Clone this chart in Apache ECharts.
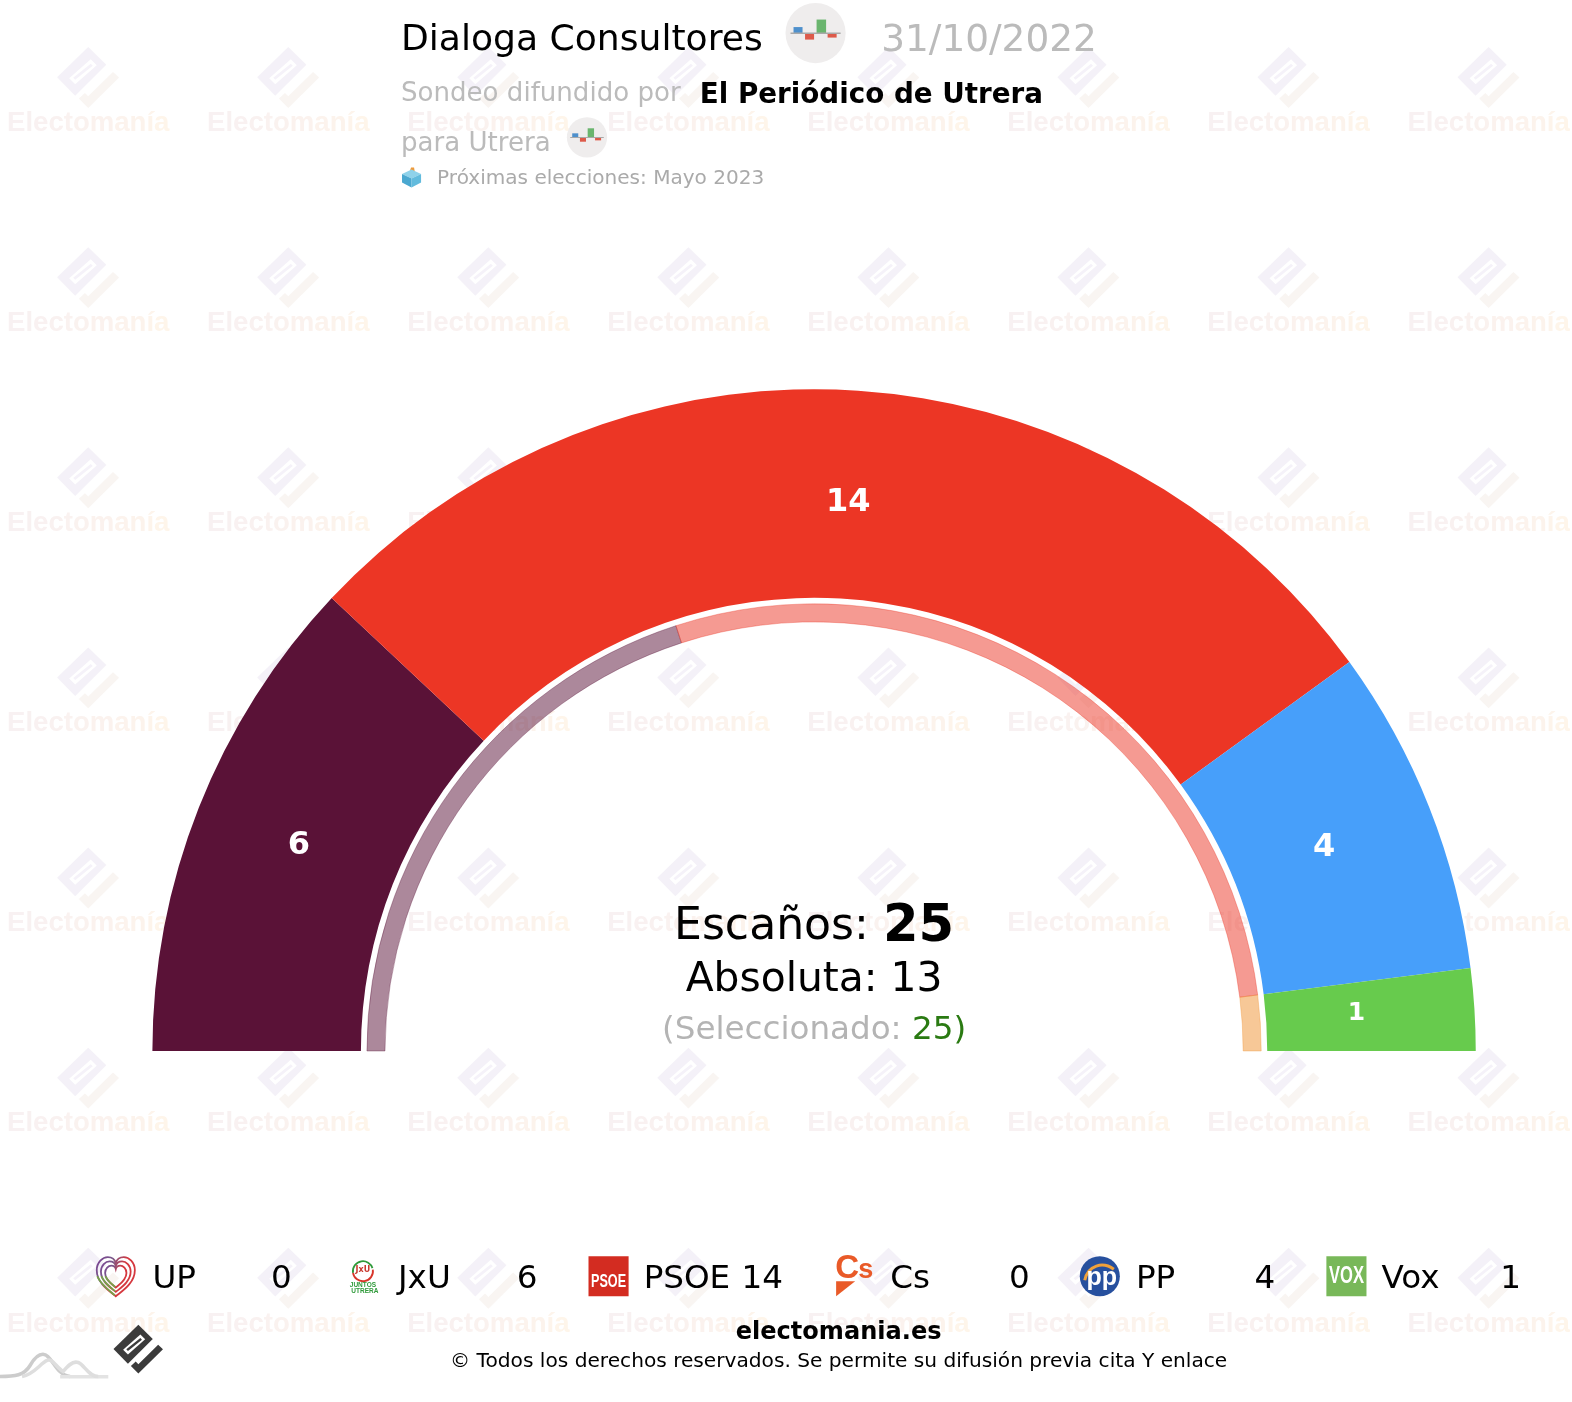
<!DOCTYPE html>
<html><head><meta charset="utf-8">
<style>html,body{margin:0;padding:0;background:#fff}#c{width:1572px;height:1402px}</style>
<script src="https://cdn.jsdelivr.net/npm/echarts@6/dist/echarts.min.js"></script>
</head><body><div id="c"></div>
<script>
const parties = ['UP','JxU','PSOE','Cs','PP','Vox'];
const seats = [0,6,14,0,4,1];
const partyColors = ['#7b3f98','#5a1237','#ec3625','#ee6b2d','#479ffa','#67cb4d'];
const ringValues = [10,14,1];
const ringColors = ['90,18,55','236,54,37','240,146,48'];
const totalSeats = 25, majority = 13, selected = 25;

const K = 1572/1568;
const FONT = '"DejaVu Sans"';
const chart = echarts.init(document.getElementById('c'), null, {renderer:'canvas'});
const G = [];
function regPath(name,d){ echarts.graphic.registerShape(name, echarts.graphic.extendPath(d,{})); }

/* watermark */
const wmBody = [[0,-30],[18,-12.5],[-13,18.5],[-31,0]];
const wmHole = [[2.5,-18],[8.5,-12],[-13,7],[-19,1]];
const wmBar  = [[2.5,-13.5],[4.5,-11.5],[-13,2.5],[-15,0.5]];
const wmTick = [[24.7,-5.3],[30.7,0.3],[0,30.7],[-9.3,21.3],[-3.3,15.7],[0,19]];
function logo(cx,cy,s,bodyFill,tickFill,holeFill,barFill,z){
  const t = p=>p.map(q=>[cx+q[0]*s,cy+q[1]*s]);
  G.push({type:'polygon',silent:true,z,shape:{points:t(wmBody)},style:{fill:bodyFill}});
  G.push({type:'polygon',silent:true,z,shape:{points:t(wmHole)},style:{fill:holeFill}});
  G.push({type:'polygon',silent:true,z,shape:{points:t(wmBar)},style:{fill:barFill}});
  G.push({type:'polygon',silent:true,z,shape:{points:t(wmTick)},style:{fill:tickFill}});
}
const wmWord='Electomanía';
const wmColors=['#f8f1f2','#f8f1f1','#f9f1f1','#f9f1f0','#faf2f0','#faf2ef','#fbf2ee','#fcf3ed','#fcf3ec','#fdf4eb','#fef5ea'];
const wmFont='bold 27.5px "Liberation Sans"';
const wmRich={}; wmColors.forEach((c,i)=>{wmRich['l'+i]={fill:c,font:wmFont};});
const wmText=wmWord.split('').map((ch,i)=>'{l'+i+'|'+ch+'}').join('');
for(let r=0;r<7;r++){for(let c=0;c<8;c++){
  const x=88+c*199.55, y=77+r*199.6;
  logo(x,y,1,'#f4f1f8','#f9f5f2','#ffffff','#f5f2f9',-10);
  G.push({type:'text',silent:true,z:-10,x,y:y+46,style:{text:wmText,rich:wmRich,font:wmFont,textAlign:'center',textVerticalAlign:'middle'}});
}}

function T(text,x,y,size,fill,opts={}){
  G.push({type:'text',silent:true,z:50,x,y:y+(opts.dy||0),style:{text,fill,font:(opts.bold?'bold ':'')+size+'px '+(opts.font||FONT),textAlign:opts.align||'left',textVerticalAlign:'middle',rich:opts.rich}});
}
/* header */
T('Dialoga Consultores',400,38,36,'#000',{dy:3});
T('31/10/2022',879,38,37.3,'#bbbbbb',{dy:3});
T('Sondeo difundido por',400,92,26,'#bbbbbb',{dy:2});
T('El Periódico de Utrera',698,93.5,27.7,'#000',{bold:true,dy:2});
T('para Utrera',400,142,26,'#bbbbbb',{dy:2});
T('Próximas elecciones: Mayo 2023',436,176.5,20,'#aaaaaa',{dy:2});

function barIcon(cx,cy,s){
  G.push({type:'circle',silent:true,z:40,shape:{cx,cy,r:30*s},style:{fill:'#efeded'}});
  const rect=(x,y,w,h,f)=>G.push({type:'rect',silent:true,z:41,shape:{x:cx+x*s,y:cy+y*s,width:w*s,height:h*s},style:{fill:f}});
  rect(-22,-6,9,6,'#4e90cc');
  rect(-10.5,0,9,6.5,'#dd5a4a');
  rect(1,-13.5,9.5,13.5,'#6ab56e');
  rect(12,0,9,4.5,'#dd5a4a');
  rect(-25,-0.7,50,1.5,'#a9a9a9');
}
barIcon(813.5,33,1);
barIcon(585.5,137,0.67);

/* ballot box */
G.push({type:'polygon',silent:true,z:41,shape:{points:[[410,167],[413,167],[414,173],[408,173]]},style:{fill:'#ee9a3a'}});
G.push({type:'polygon',silent:true,z:41,shape:{points:[[410.5,169],[420,173.5],[410.5,178],[401,173.5]]},style:{fill:'#8fd2ea'}});
G.push({type:'polygon',silent:true,z:41,shape:{points:[[401,173.5],[410.5,178],[410.5,187],[401,182]]},style:{fill:'#4aa8d0'}});
G.push({type:'polygon',silent:true,z:41,shape:{points:[[420,173.5],[410.5,178],[410.5,187],[420,182]]},style:{fill:'#62bbdd'}});

/* centre */
T('Escaños: {b|'+totalSeats+'}',812,921,44,'#000',{align:'center',dy:4,rich:{b:{font:'bold 51px '+FONT,fill:'#000'}}});
T('Absoluta: '+majority,812,974,40.7,'#000',{align:'center',dy:4});
T('(Seleccionado: {g|'+selected+'}{k|)}',812,1025,32.5,'#b4b4b4',{align:'center',dy:3,rich:{g:{font:'32.5px '+FONT,fill:'#2a7a12'},k:{font:'32.5px '+FONT,fill:'#2a7a12'}}});

/* legend */
const nameX=[152,397,642,888,1133,1378], valX=[291,536,781,1027,1272,1517];
parties.forEach((p,i)=>{
  T(p,nameX[i],1273,32.5,'#000',{dy:3});
  T(String(seats[i]),valX[i],1273,32.5,'#000',{align:'right',dy:3});
});
/* UP heart */
regPath('upHeart','M 0 20 C -6 15 -19 7 -19 -6 C -19 -14 -13 -19 -8 -19 C -4 -19 -1 -17 0 -13 C 1 -17 4 -19 8 -19 C 13 -19 19 -14 19 -6 C 19 7 6 15 0 20 Z');
regPath('upLeaf','M -18.5 0 C -16 7 -7 14 -1 19');
[1,0.78,0.56].forEach(s=>{
  G.push({type:'upHeart',silent:true,z:41,x:115.5,y:1273,scaleX:s,scaleY:s,shape:{},
    style:{fill:'none',stroke:new echarts.graphic.LinearGradient(0,0,1,0.6,[{offset:0,color:'#7a3c96'},{offset:0.35,color:'#7a5a8a'},{offset:0.6,color:'#d5383f'},{offset:1,color:'#d5383f'}]),lineWidth:1.8,strokeNoScale:true}});
  G.push({type:'upLeaf',silent:true,z:42,x:115.5,y:1273,scaleX:s,scaleY:s,shape:{},style:{fill:'none',stroke:'#78a24a',lineWidth:1.8,strokeNoScale:true}});
});
/* JxU */
G.push({type:'arc',silent:true,z:41,shape:{cx:362,cy:1268,r:10,startAngle:-Math.PI*1.05,endAngle:-Math.PI*0.1,clockwise:true},style:{fill:'none',stroke:'#2f9a3a',lineWidth:1.8}});
G.push({type:'arc',silent:true,z:41,shape:{cx:362,cy:1268,r:10,startAngle:-Math.PI*0.05,endAngle:Math.PI*0.95,clockwise:true},style:{fill:'none',stroke:'#d8352a',lineWidth:1.8}});
G.push({type:'text',silent:true,z:42,x:362,y:1267,style:{text:'JxU',font:'bold 8px '+FONT,fill:'#c8392f',textAlign:'center',textVerticalAlign:'middle'}});
G.push({type:'text',silent:true,z:42,x:362,y:1282,style:{text:'JUNTOS',font:'bold 6.5px "Liberation Sans"',fill:'#2f9a3a',textAlign:'center',textVerticalAlign:'middle'}});
G.push({type:'text',silent:true,z:42,x:364,y:1288,style:{text:'UTRERA',font:'bold 6.5px "Liberation Sans"',fill:'#2f9a3a',textAlign:'center',textVerticalAlign:'middle'}});
/* PSOE */
G.push({type:'rect',silent:true,z:41,shape:{x:587,y:1253,width:40,height:40},style:{fill:'#d32c21'}});
G.push({type:'text',silent:true,z:42,x:607,y:1279,scaleX:0.7,style:{text:'PSOE',font:'bold 18px "Liberation Sans"',fill:'#fff',textAlign:'center',textVerticalAlign:'middle'}});
/* Cs */
G.push({type:'text',silent:true,z:42,x:833,y:1266,style:{text:'C',font:'bold 33px "Liberation Sans"',fill:'#e95a28',textAlign:'left',textVerticalAlign:'middle'}});
G.push({type:'text',silent:true,z:42,x:856,y:1267,style:{text:'s',font:'bold 27px "Liberation Sans"',fill:'#e95a28',textAlign:'left',textVerticalAlign:'middle'}});
G.push({type:'polygon',silent:true,z:41,shape:{points:[[834,1278],[853,1278],[834,1293]]},style:{fill:'#e95a28'}});
/* PP */
regPath('ppSwoosh','M 1082 1277 C 1085 1262 1100 1258 1111 1266');
G.push({type:'circle',silent:true,z:41,shape:{cx:1097,cy:1273,r:20},style:{fill:'#27509e'}});
G.push({type:'ppSwoosh',silent:true,z:42,shape:{},style:{fill:'none',stroke:'#f0a13a',lineWidth:3}});
G.push({type:'text',silent:true,z:43,x:1099,y:1275,style:{text:'pp',font:'bold 25px "Liberation Sans"',fill:'#fff',textAlign:'center',textVerticalAlign:'middle'}});
/* Vox */
G.push({type:'rect',silent:true,z:41,shape:{x:1323,y:1253,width:40,height:40},style:{fill:'#78b859'}});
G.push({type:'text',silent:true,z:42,x:1343,y:1273,scaleX:0.72,style:{text:'VOX',font:'bold 23px "Liberation Sans"',fill:'#fff',textAlign:'center',textVerticalAlign:'middle'}});

/* footer */
T('electomania.es',836.5,1327.5,24,'#000',{align:'center',bold:true,dy:2});
T('© Todos los derechos reservados. Se permite su difusión previa cita Y enlace',836.5,1356,20.1,'#000',{align:'center',dy:2});
logo(138,1345.5,0.8,'#3b3b3b','#3b3b3b','#ffffff','#3b3b3b',45);
regPath('hillLight','M 22 1373 C 34 1371 40 1360 47 1357 C 52 1354 56 1364 63 1368 C 67 1363 72 1357 78 1359 C 84 1361 88 1373 98 1373');
regPath('hillDark','M 0 1373 C 15 1373 24 1372 30 1362 C 34 1355 38 1350 44 1351 C 52 1352 56 1372 70 1373');
G.push({type:'hillLight',silent:true,z:40,shape:{},style:{fill:'none',stroke:'#dedede',lineWidth:3.5}});
G.push({type:'hillDark',silent:true,z:39,shape:{},style:{fill:'none',stroke:'#cccccc',lineWidth:3.5}});
G.push({type:'rect',silent:true,z:39,shape:{x:60,y:1371.5,width:48,height:3.5},style:{fill:'#e3e3e3'}});

const labelOffsets={JxU:[6,1],PSOE:[-1,11],PP:[-11,3],Vox:[-17,-2]};
const outerData=parties.map((name,i)=>({
  name,value:seats[i],
  itemStyle:{color:partyColors[i]},
  label:{show:seats[i]>0,fontSize:name==='Vox'?25:32,offset:labelOffsets[name]||[0,0]}
}));

const C=[812*K,1048.3*K];
chart.setOption({
  animation:false,
  backgroundColor:'#fff',
  tooltip:{show:false},
  graphic:{elements:[{type:'group',x:0,y:0,scaleX:K,scaleY:K,silent:true,children:G}]},
  series:[
    {type:'pie',silent:true,center:C,radius:[452*K,660*K],startAngle:180,endAngle:0,clockwise:true,
     avoidLabelOverlap:false,z:5,
     label:{show:true,position:'inside',color:'#fff',fontWeight:'bold',fontFamily:FONT,formatter:'{c}'},
     labelLine:{show:false},
     data:outerData},
    {type:'pie',silent:true,center:C,radius:[428*K,446*K],startAngle:180,endAngle:0,clockwise:true,
     avoidLabelOverlap:false,z:5,label:{show:false},labelLine:{show:false},
     data:ringValues.map((value,i)=>({value,itemStyle:{color:'rgba('+ringColors[i]+',0.5)',borderColor:'rgba('+ringColors[i]+',0.35)',borderWidth:1}}))}
  ]
});
</script></body></html>
